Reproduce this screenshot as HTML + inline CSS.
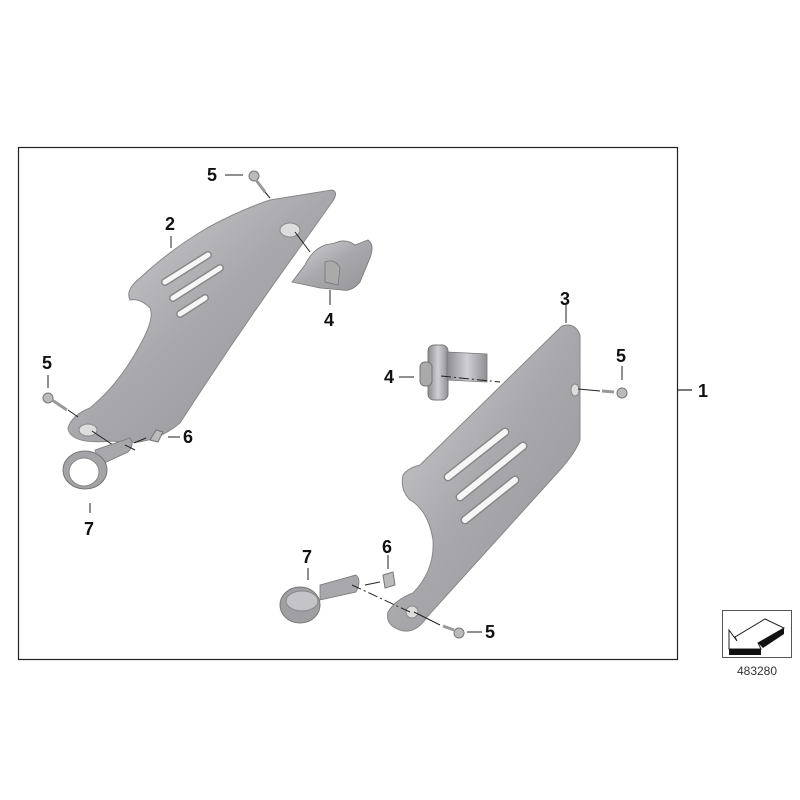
<!DOCTYPE html>
<html><head><meta charset="utf-8"><style>
html,body{margin:0;padding:0;background:#fff;}
svg{display:block}
text{font-family:"Liberation Sans",sans-serif;font-weight:bold;font-size:18px;fill:#111}
</style></head><body>
<svg width="800" height="800" viewBox="0 0 800 800" xmlns="http://www.w3.org/2000/svg">
<defs>
<linearGradient id="g" x1="0" y1="0" x2="1" y2="1">
<stop offset="0" stop-color="#d4d4d8"/><stop offset="0.5" stop-color="#a8a8ac"/><stop offset="1" stop-color="#95959a"/>
</linearGradient>
<linearGradient id="g2" x1="0" y1="0" x2="1" y2="0">
<stop offset="0" stop-color="#8c8c90"/><stop offset="0.5" stop-color="#d0d0d4"/><stop offset="1" stop-color="#909094"/>
</linearGradient>
</defs>
<rect x="18.5" y="147.5" width="659" height="512" fill="none" stroke="#222" stroke-width="1.2"/>
<line x1="677" y1="390" x2="692" y2="390" stroke="#222" stroke-width="1.2"/>
<text x="698" y="397">1</text>

<!-- Part 2 -->
<path d="M332,190 Q340,192 330,205 L303,243 Q240,330 180,423 Q150,448 113,441 Q70,445 68,428 Q72,415 90,408 Q120,383 140,345 Q155,318 150,308 Q140,298 130,300 Q125,290 140,278 Q170,250 207,228 Q240,210 270,200 Z" fill="url(#g)" stroke="#888" stroke-width="1"/>
<g stroke-linecap="round">
<g stroke="#888" stroke-width="8">
<line x1="165" y1="282" x2="208" y2="255"/>
<line x1="173" y1="298" x2="220" y2="268"/>
<line x1="180" y1="314" x2="205" y2="298"/>
</g>
<g stroke="#f6f6f6" stroke-width="5">
<line x1="165" y1="282" x2="208" y2="255"/>
<line x1="173" y1="298" x2="220" y2="268"/>
<line x1="180" y1="314" x2="205" y2="298"/>
</g></g>
<ellipse cx="290" cy="230" rx="10" ry="7" fill="#ddd" stroke="#888"/>
<ellipse cx="88" cy="430" rx="9" ry="6" fill="#ddd" stroke="#888"/>
<!-- clip 4 top -->
<path d="M292,282 L305,265 Q312,250 325,245 L335,243 Q345,238 355,245 L368,240 Q375,245 370,258 L360,282 Q352,292 342,290 L320,288 Z" fill="url(#g)" stroke="#777" stroke-width="0.8"/>
<path d="M325,262 Q335,258 340,268 L338,285 L325,282 Z" fill="#aaa" stroke="#777" stroke-width="0.8"/>
<line x1="295" y1="232" x2="310" y2="252" stroke="#222"/>
<line x1="330" y1="290" x2="330" y2="305" stroke="#222"/>
<text x="324" y="326">4</text>
<!-- screw top -->
<circle cx="254" cy="176" r="5" fill="#bbb" stroke="#777"/>
<line x1="256" y1="180" x2="265" y2="192" stroke="#999" stroke-width="3"/>
<line x1="265" y1="192" x2="270" y2="198" stroke="#222"/>
<line x1="225" y1="175" x2="243" y2="175" stroke="#222"/>
<text x="207" y="181">5</text>
<line x1="171" y1="236" x2="171" y2="248" stroke="#222"/>
<text x="165" y="230">2</text>
<!-- screw left -->
<text x="42" y="369">5</text>
<line x1="48" y1="375" x2="48" y2="388" stroke="#222"/>
<circle cx="48" cy="398" r="5" fill="#bbb" stroke="#777"/>
<line x1="52" y1="400" x2="67" y2="410" stroke="#999" stroke-width="3"/>
<line x1="68" y1="410" x2="78" y2="417" stroke="#222"/>
<line x1="92" y1="431" x2="113" y2="445" stroke="#222"/>
<!-- clamp 7 left -->
<path d="M95,450 L130,438 Q135,445 128,452 L100,465 Z" fill="#a8a8ac" stroke="#777" stroke-width="0.8"/>
<ellipse cx="85" cy="470" rx="22" ry="19" fill="#a4a4a8" stroke="#777"/>
<ellipse cx="84" cy="472" rx="15" ry="14" fill="#fff" stroke="#888"/>
<line x1="125" y1="445" x2="135" y2="450" stroke="#222"/>
<line x1="134" y1="443" x2="146" y2="438" stroke="#222"/>
<path d="M150,440 L156,430 L163,432 L158,442 Z" fill="#bbb" stroke="#777"/>
<line x1="168" y1="437" x2="180" y2="437" stroke="#222"/>
<text x="183" y="443">6</text>
<line x1="90" y1="503" x2="90" y2="513" stroke="#222"/>
<text x="84" y="535">7</text>

<!-- Part 3 -->
<path d="M562,326 Q575,322 580,335 L580,440 Q576,452 560,470 L427,617 Q415,635 400,630 Q385,625 388,612 Q395,600 413,593 Q435,570 433,540 Q428,510 410,500 Q400,490 403,475 Q408,468 420,465 Z" fill="url(#g)" stroke="#888" stroke-width="1"/>
<g stroke-linecap="round">
<g stroke="#888" stroke-width="9">
<line x1="448" y1="477" x2="505" y2="432"/>
<line x1="460" y1="497" x2="523" y2="446"/>
<line x1="465" y1="520" x2="515" y2="480"/>
</g>
<g stroke="#f6f6f6" stroke-width="6">
<line x1="448" y1="477" x2="505" y2="432"/>
<line x1="460" y1="497" x2="523" y2="446"/>
<line x1="465" y1="520" x2="515" y2="480"/>
</g></g>
<ellipse cx="575" cy="390" rx="4" ry="6" fill="#ddd" stroke="#888"/>
<ellipse cx="412" cy="612" rx="6" ry="6" fill="#ddd" stroke="#888"/>
<line x1="566" y1="305" x2="566" y2="323" stroke="#222"/>
<text x="560" y="305">3</text>
<!-- bracket 4 right -->
<rect x="428" y="345" width="20" height="55" rx="6" fill="url(#g2)" stroke="#777"/>
<rect x="420" y="362" width="12" height="24" rx="5" fill="#aaa" stroke="#777"/>
<path d="M447,352 L487,354 L487,382 L447,380 Z" fill="url(#g2)" stroke="#777" stroke-width="0.8"/>
<line x1="441" y1="376" x2="500" y2="382" stroke="#222" stroke-dasharray="10,3,2,3"/>
<line x1="399" y1="377" x2="414" y2="377" stroke="#222"/>
<text x="384" y="383">4</text>
<!-- screw right -->
<line x1="578" y1="389" x2="600" y2="391" stroke="#222"/>
<line x1="602" y1="391" x2="614" y2="392" stroke="#999" stroke-width="3"/>
<circle cx="622" cy="393" r="5" fill="#bbb" stroke="#777"/>
<line x1="622" y1="366" x2="622" y2="380" stroke="#222"/>
<text x="616" y="362">5</text>
<!-- clamp 7 right -->
<path d="M320,585 L356,575 Q362,580 356,592 L320,600 Z" fill="#a8a8ac" stroke="#777" stroke-width="0.8"/>
<ellipse cx="300" cy="605" rx="20" ry="18" fill="#a0a0a4" stroke="#777"/>
<ellipse cx="302" cy="601" rx="16" ry="10" fill="#c4c4c8" stroke="#888"/>
<line x1="308" y1="568" x2="308" y2="580" stroke="#222"/>
<text x="302" y="563">7</text>
<line x1="352" y1="585" x2="410" y2="612" stroke="#222" stroke-dasharray="10,3,2,3"/>
<line x1="365" y1="585" x2="380" y2="582" stroke="#222"/>
<path d="M383,575 L393,572 L395,585 L385,588 Z" fill="#bbb" stroke="#777"/>
<line x1="388" y1="555" x2="388" y2="569" stroke="#222"/>
<text x="382" y="553">6</text>
<line x1="414" y1="612" x2="440" y2="625" stroke="#222"/>
<line x1="443" y1="626" x2="454" y2="630" stroke="#999" stroke-width="3"/>
<circle cx="459" cy="633" r="5" fill="#bbb" stroke="#777"/>
<line x1="467" y1="632" x2="482" y2="632" stroke="#222"/>
<text x="485" y="638">5</text>

<!-- ref box -->
<rect x="722.5" y="610.5" width="69" height="47" fill="#fff" stroke="#555"/>
<path d="M729,630 L737,641 L735,637 L765,619 L784,628 L758,643 L761,649 L729,649 Z" fill="#fff" stroke="#222"/>
<path d="M729,649 L761,649 L761,655 L729,655 Z" fill="#111"/>
<path d="M784,628 L784,634 L763,648 L758,643 Z" fill="#111"/>
<text x="757" y="675" text-anchor="middle" style="font-weight:normal;font-size:12px;fill:#333">483280</text>
</svg>
</body></html>
